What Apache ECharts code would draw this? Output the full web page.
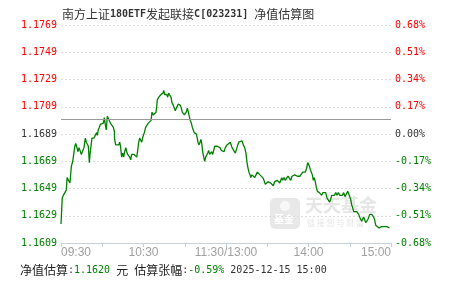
<!DOCTYPE html>
<html>
<head>
<meta charset="utf-8">
<script src="https://cdn.jsdelivr.net/npm/echarts@6/dist/echarts.min.js"></script>
<style>html,body{margin:0;padding:0;background:#fff;}#c{width:451px;height:281px;}</style>
</head>
<body>
<div id="c"></div>
<script>
// ---- data ----
const baseNav = 1.1689; // previous NAV (0.00% line)
const yTicksMin = 1.1609, yTicksMax = 1.1769, yTickStep = 0.002;
const timeLabels = {0: '09:30', 60: '10:30', 120: '11:30/13:00', 180: '14:00', 240: '15:00'};
// trading minutes after 09:30 (lunch break removed)
const minutes = [
0,0.9,1.7,3.1,3.9,4.4,5.5,6.5,7.5,8.5,9.5,10,10.7,11.6,12.4,13.1,13.8,14.8,15.8,16.7,17.7,18.4,19.1,19.9,20.6,21.1,21.8,22.5,23.3,24,24.9,26,26.4,27.1,27.9,28.6,29.3,30,30.8,31.5,32.2,32.9,33.7,34.4,35.1,35.9,36.6,37.3,38,38.8,39,39.8,40.5,41.2,42,42.7,43.4,44.1,44.9,45.6,46.3,47.1,47.8,48.5,49.2,50,50.7,51.4,52.1,53.1,54,55.1,55.8,56.5,57.2,58,58.7,59.6,60.6,61.6,62.5,63.5,64.5,65.5,66.2,67.1,68.1,69.1,69.6,70,71.1,72,72.7,73.5,74.2,74.7,75.4,76.1,76.9,77.6,78.3,79.3,80,80.7,81.7,82.4,83.1,83.9,84.6,85.3,86,86.8,87.5,88.2,88.9,89.7,90.4,91.1,91.9,92.6,93.3,94,94.8,95.5,96.2,96.9,97.7,98.4,99.1,99.6,100.4,101.1,101.8,102.5,103,103.8,104.5,105.2,106,106.7,107.4,108.1,108.9,109.6,110.3,111.1,111.8,112.7,113.7,114.7,115.6,116.6,117.6,118.5,119.5,120.7,122,123.1,124.4,125.6,126.8,128,129.2,130.4,131.6,132.6,133.6,134.5,135.3,136,136.7,137.5,138,138.9,139.9,140.9,141.8,142.8,143.8,144.7,145.7,146.7,147.6,148.6,149.6,150.5,151.5,152.5,153.5,154.4,155.4,156.4,157.3,158.3,159.1,159.8,160.5,161.2,162.2,163.1,164.1,165.1,166,167.1,168,169,170,170.9,171.9,172.9,173.8,174.8,175.8,176.7,177.7,178.7,179.4,180.4,181.3,182,182.8,183.5,184.2,184.9,185.7,186.4,187.1,187.9,188.6,189.6,190.5,191.5,192.5,193.5,194.4,195.4,196.1,196.9,197.8,198.8,199.8,200.7,201.7,202.7,203.6,204.6,205.6,206.5,207.5,208.5,209.2,210,210.7,211.4,212.1,212.9,213.6,214.3,215.1,215.8,216.5,217.2,218,218.7,219.4,220.1,220.9,221.6,222.3,223.1,223.8,224.5,225.2,226,226.7,227.4,228.1,228.9,229.6,230.3,231.3,232.2,233.2,234.2,235.1,236.2,237.1,238,238.8
];
const navValues = [
1.1623,1.1642,1.1644,1.1644,1.1648,1.1657,1.1657,1.1653,1.1665,1.1669,1.1676,1.1680,1.1682,1.1683,1.1676,1.1679,1.1677,1.1674,1.1675,1.1679,1.1686,1.1683,1.1683,1.1680,1.1668,1.1674,1.1680,1.1686,1.1687,1.1686,1.1688,1.1690,1.1688,1.1692,1.1694,1.1696,1.1695,1.1697,1.1697,1.1701,1.1696,1.1692,1.1702,1.1702,1.1701,1.1697,1.1698,1.1696,1.1694,1.1691,1.1685,1.1681,1.1680,1.1680,1.1681,1.1683,1.1679,1.1672,1.1675,1.1672,1.1676,1.1679,1.1676,1.1674,1.1674,1.1672,1.1670,1.1674,1.1675,1.1674,1.1673,1.1672,1.1677,1.1683,1.1686,1.1685,1.1683,1.1687,1.1690,1.1694,1.1695,1.1697,1.1697,1.1699,1.1705,1.1703,1.1702,1.1705,1.1709,1.1714,1.1716,1.1717,1.1718,1.1719,1.1719,1.1721,1.1718,1.1717,1.1718,1.1716,1.1719,1.1719,1.1716,1.1712,1.1710,1.1708,1.1706,1.1708,1.1709,1.1711,1.1711,1.1710,1.1708,1.1705,1.1705,1.1703,1.1702,1.1705,1.1708,1.1705,1.1702,1.1699,1.1697,1.1694,1.1692,1.1690,1.1690,1.1689,1.1686,1.1683,1.1681,1.1683,1.1685,1.1681,1.1676,1.1672,1.1669,1.1672,1.1673,1.1675,1.1677,1.1674,1.1675,1.1676,1.1674,1.1677,1.1680,1.1681,1.1680,1.1679,1.1679,1.1677,1.1677,1.1676,1.1679,1.1681,1.1680,1.1683,1.1679,1.1677,1.1675,1.1679,1.1683,1.1683,1.1684,1.1681,1.1679,1.1675,1.1668,1.1664,1.1661,1.1659,1.1657,1.1659,1.1658,1.1657,1.1659,1.1661,1.1661,1.1659,1.1659,1.1657,1.1655,1.1652,1.1653,1.1654,1.1655,1.1653,1.1652,1.1651,1.1654,1.1655,1.1655,1.1654,1.1653,1.1653,1.1657,1.1655,1.1657,1.1655,1.1655,1.1658,1.1657,1.1655,1.1658,1.1659,1.1659,1.1658,1.1658,1.1659,1.1658,1.1659,1.1661,1.1661,1.1661,1.1664,1.1668,1.1666,1.1663,1.1664,1.1659,1.1655,1.1657,1.1654,1.1650,1.1647,1.1648,1.1646,1.1646,1.1644,1.1646,1.1646,1.1646,1.1642,1.1641,1.1639,1.1641,1.1644,1.1643,1.1644,1.1646,1.1644,1.1646,1.1644,1.1643,1.1644,1.1646,1.1643,1.1642,1.1647,1.1646,1.1643,1.1641,1.1637,1.1635,1.1632,1.1633,1.1631,1.1632,1.1631,1.1630,1.1628,1.1628,1.1625,1.1626,1.1628,1.1626,1.1624,1.1625,1.1626,1.1628,1.1630,1.1631,1.1630,1.1631,1.1628,1.1626,1.1622,1.1621,1.1621,1.1620,1.1621,1.1621,1.1621,1.1621,1.1621,1.1621,1.1621,1.1620
];
const titleParts = ['南方上证', '180ETF', '发起联接', 'C[023231]', '净值估算图'];
const estNav = '1.1620';
const estChange = '-0.59%';
const estTime = '2025-12-15 15:00';

// ---- chart ----
const mono = '"DejaVu Sans Mono", "Liberation Mono", monospace';
const cjk = '"Noto Sans CJK SC", sans-serif';
const GREEN = '#008000', RED = '#ff0000', DARK = '#333333';
const chart = echarts.init(document.getElementById('c'), null, {renderer: 'canvas'});
const seriesData = minutes.map((m, i) => [m, navValues[i]]);
const tagRich = {u: {color: RED, fontFamily: mono, fontSize: 10}, d: {color: GREEN, fontFamily: mono, fontSize: 10}, z: {color: DARK, fontFamily: mono, fontSize: 10}};
function tagOf(v) { return Math.abs(v - baseNav) < 1e-6 ? 'z' : (v > baseNav ? 'u' : 'd'); }
chart.setOption({
  animation: false,
  backgroundColor: '#fff',
  title: {
    left: 57, top: 3,
    text: '{c|' + titleParts[0] + '}{l|' + titleParts[1] + '}{c|' + titleParts[2] + '}{l|' + titleParts[3] + ' }{c|' + titleParts[4] + '}',
    textStyle: {
      rich: {
        c: {fontFamily: cjk, fontSize: 12, color: '#333', fontWeight: 'normal'},
        l: {fontFamily: mono, fontSize: 10, color: '#333'}
      }
    }
  },
  grid: {left: 61, right: 60, top: 25, bottom: 38, containLabel: false},
  xAxis: {
    type: 'value', min: 0, max: 240, interval: 30,
    axisLine: {show: true, lineStyle: {color: '#c5d2de', width: 1}},
    axisTick: {show: true, length: 4, lineStyle: {color: '#c5d2de'}},
    splitLine: {show: false},
    axisLabel: {
      color: '#a0a0a0', fontSize: 12, fontFamily: '"Liberation Sans", Arial, sans-serif', margin: 4,
      alignMinLabel: 'left', alignMaxLabel: 'right',
      formatter: v => timeLabels[v] !== undefined ? timeLabels[v] : ''
    }
  },
  yAxis: [{
    type: 'value', min: yTicksMin, max: yTicksMax, interval: yTickStep, position: 'left',
    axisLine: {show: false}, axisTick: {show: false},
    splitLine: {show: true, lineStyle: {color: '#dedede', type: [2, 2], width: 1}},
    axisLabel: {
      margin: 4, fontFamily: mono, fontSize: 10,
      formatter: v => '{' + tagOf(v) + '|' + v.toFixed(4) + '}',
      rich: tagRich
    }
  }, {
    type: 'value', min: yTicksMin, max: yTicksMax, interval: yTickStep, position: 'right',
    axisLine: {show: false}, axisTick: {show: false}, splitLine: {show: false},
    axisLabel: {
      margin: 4, fontFamily: mono, fontSize: 10,
      formatter: v => {
        const p = (v / baseNav - 1) * 100;
        return '{' + tagOf(v) + '|' + (Math.abs(p) < 0.005 ? '0.00' : p.toFixed(2)) + '%}';
      },
      rich: tagRich
    }
  }],
  graphic: [
    {type: 'rect', z: -10, shape: {x: 270, y: 198, width: 30, height: 31, r: 5}, style: {fill: '#e8e8e8'}, silent: true},
    {type: 'text', z: -9, left: 274, top: 214, style: {text: '基金', fill: '#ffffff', font: 'bold 10px "Noto Sans CJK SC"'}, silent: true},
    {type: 'circle', z: -9, shape: {cx: 285, cy: 206, r: 5}, style: {fill: '#ffffff', opacity: 0.7}, silent: true},
    {type: 'text', z: -10, left: 305, top: 196, style: {text: '天天基金', fill: '#e6e6e6', font: 'bold 18px "Noto Sans CJK SC"'}, silent: true},
    {type: 'text', z: -10, left: 307, top: 219, style: {text: '链 接 您 与 财 富', fill: '#e6e6e6', font: '8px "Noto Sans CJK SC"'}, silent: true},
    {type: 'text', left: 20, top: 264, style: {
      text: '{c|净值估算}{k|:}{g|' + estNav + '}{k| }{c|元}{k| }{c|估算张幅}{k|:}{g|' + estChange + '}{k| ' + estTime + '}',
      rich: {
        c: {fontFamily: cjk, fontSize: 12, fill: '#222', color: '#222'},
        g: {fontFamily: mono, fontSize: 10, fill: GREEN, color: GREEN},
        k: {fontFamily: mono, fontSize: 10, fill: '#333', color: '#333'}
      }
    }}
  ],
  series: [{
    type: 'line', xAxisIndex: 0, yAxisIndex: 0,
    data: seriesData, showSymbol: false, symbol: 'none',
    lineStyle: {color: GREEN, width: 1.3}, z: 3,
    markLine: {
      silent: true, symbol: 'none', label: {show: false},
      lineStyle: {color: '#999999', type: 'solid', width: 1},
      data: [{yAxis: baseNav}]
    }
  }]
});
</script>
</body>
</html>
